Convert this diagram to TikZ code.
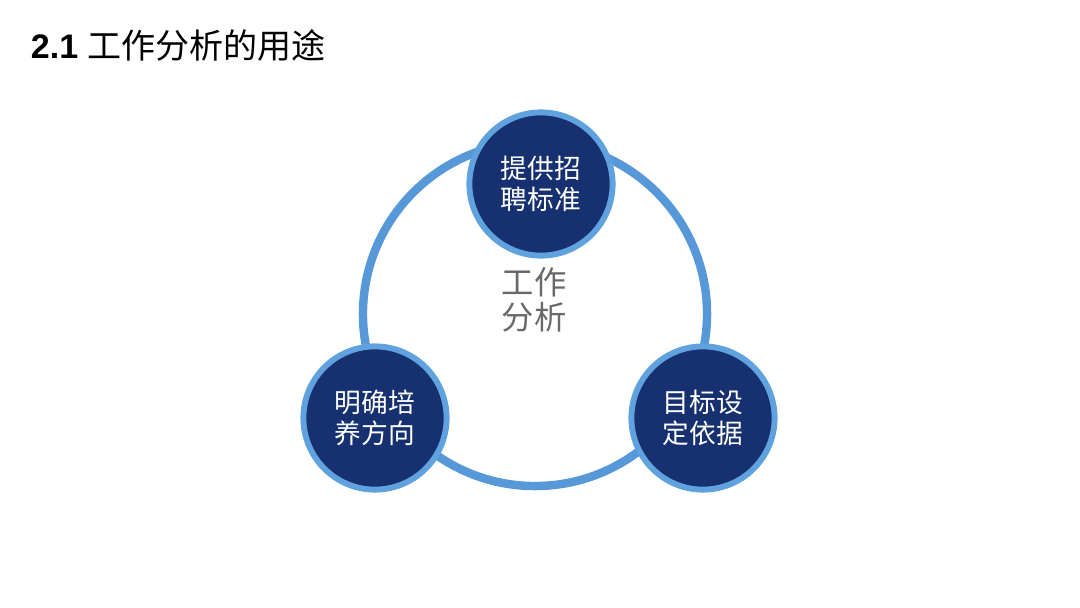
\documentclass[tikz,border=0pt]{standalone}
\usepackage{fontspec}
\setmainfont{Liberation Sans}
\newfontfamily\cjk{Noto Sans CJK SC}
\usepackage{tikz}

\definecolor{navy}{RGB}{22,48,112}
\definecolor{skyring}{RGB}{86,152,216}
\definecolor{skyrim}{RGB}{96,162,222}
\definecolor{coregray}{RGB}{105,105,105}

\begin{document}
\begin{tikzpicture}[
    x=0.025cm, y=-0.025cm,
    ring/.style={draw=skyring, line width=6pt, circle, minimum size=8.6cm},
    use/.style={draw=skyrim, fill=navy, line width=4.2pt, circle, minimum size=3.58cm,
        text=white, align=center, font=\cjk\fontsize{19}{22.5}\selectfont},
    core/.style={text=coregray, align=center, font=\cjk\fontsize{23}{24.5}\selectfont},
    heading/.style={anchor=west, font=\fontsize{24.2}{27}\selectfont}
]
    \useasboundingbox (0,0) rectangle (1080,607);

    \node[heading] (title) at (26,45) {\textbf{2.1} {\cjk 工作分析的用途}};

    \node[ring] (ring) at (535,314) {};
    \node[core] (core) at (534,300) {工作\\分析};

    \node[use] (recruit) at (541,184) {提供招\\聘标准};
    \node[use] (train) at (375,418) {明确培\\养方向};
    \node[use] (goal) at (703,418) {目标设\\定依据};
\end{tikzpicture}
\end{document}
